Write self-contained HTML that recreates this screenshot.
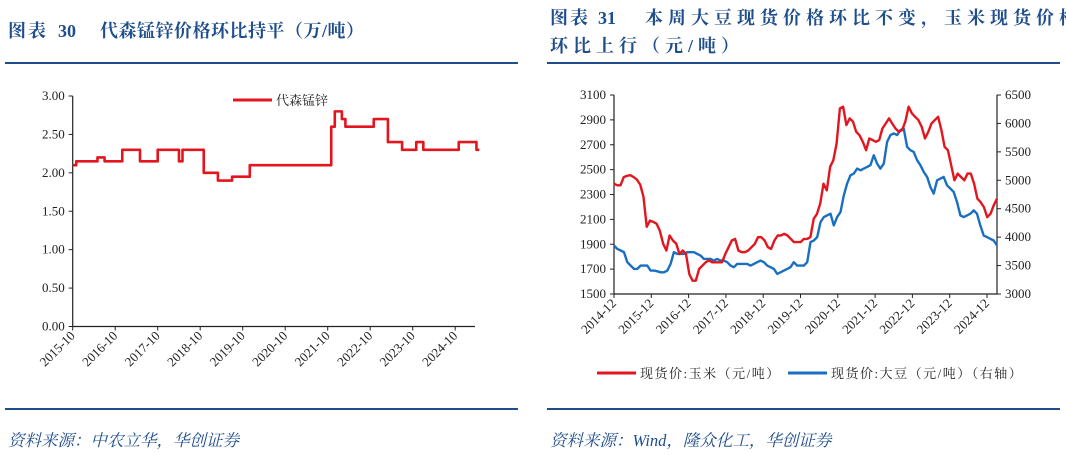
<!DOCTYPE html>
<html><head><meta charset="utf-8"><style>
html,body{margin:0;padding:0;background:#fff;}
svg{display:block;}
text{font-family:"Liberation Serif","Noto Serif CJK SC",serif;}
.cj{font-family:"Liberation Serif","Noto Serif CJK SC","Noto Sans CJK SC",serif;}
.tick{font-size:13px;fill:#222;}
</style></head><body>
<svg id="page" width="1066" height="455" viewBox="0 0 1066 455" xmlns="http://www.w3.org/2000/svg">
<g class="cj" font-size="18" font-weight="bold" fill="#1f4e8c">
<text x="8" y="37" letter-spacing="2">图表</text>
<text x="58" y="37">30</text>
<text x="100" y="37" letter-spacing="0.5">代森锰锌价格环比持平（万/吨）</text>
</g>
<rect x="5" y="62" width="513" height="2" fill="#1f4e8c"/>
<rect x="5" y="408" width="513" height="2" fill="#1f4e8c"/>
<text x="8" y="446" class="cj" font-size="16.5" font-style="italic" fill="#1f4e8c">资料来源：中农立华，华创证券</text>

<g class="cj" font-size="18" font-weight="bold" fill="#1f4e8c">
<text x="550" y="24" letter-spacing="2">图表</text>
<text x="598" y="24">31</text>
<text x="645" y="24" letter-spacing="5">本周大豆现货价格环比不变，玉米现货价格</text>
<text x="550" y="52" letter-spacing="5">环比上行（元/吨）</text>
</g>
<rect x="547" y="62" width="513" height="2" fill="#1f4e8c"/>
<rect x="547" y="408" width="513" height="2" fill="#1f4e8c"/>
<text x="550" y="446" class="cj" font-size="16.5" font-style="italic" fill="#1f4e8c">资料来源：Wind，隆众化工，华创证券</text>

<g id="left"></g>
<g id="right"></g>
</svg>
<script>
// ---- Left chart data (monthly, from 2015-10) ----
const mzPrices = [2.1,2.15,2.15,2.15,2.15,2.15,2.15,2.2,2.2,2.15,2.15,2.15,2.15,2.15,2.3,2.3,2.3,2.3,2.3,2.15,2.15,2.15,2.15,2.15,2.3,2.3,2.3,2.3,2.3,2.3,2.15,2.3,2.3,2.3,2.3,2.3,2.3,2.0,2.0,2.0,2.0,1.9,1.9,1.9,1.9,1.95,1.95,1.95,1.95,1.95,2.1,2.1,2.1,2.1,2.1,2.1,2.1,2.1,2.1,2.1,2.1,2.1,2.1,2.1,2.1,2.1,2.1,2.1,2.1,2.1,2.1,2.1,2.1,2.6,2.8,2.8,2.7,2.6,2.6,2.6,2.6,2.6,2.6,2.6,2.6,2.7,2.7,2.7,2.7,2.4,2.4,2.4,2.4,2.3,2.3,2.3,2.3,2.4,2.4,2.3,2.3,2.3,2.3,2.3,2.3,2.3,2.3,2.3,2.3,2.4,2.4,2.4,2.4,2.4,2.3];
const leftYTicks = [0,0.5,1,1.5,2,2.5,3];
const leftXLabels = ["2015-10","2016-10","2017-10","2018-10","2019-10","2020-10","2021-10","2022-10","2023-10","2024-10"];

// ---- Right chart data ----
const cornPrices = [2387,2374,2374,2440,2450,2455,2440,2420,2380,2280,2040,2090,2080,2065,2010,1905,1850,1970,1930,1905,1822,1850,1822,1660,1607,1607,1700,1728,1755,1770,1755,1755,1755,1755,1822,1876,1930,1943,1850,1836,1836,1850,1876,1903,1957,1957,1930,1876,1863,1930,1970,1970,1984,1970,1943,1917,1917,1917,1943,1943,1957,2105,2145,2226,2387,2333,2522,2575,2710,2992,3006,2858,2912,2885,2804,2777,2724,2656,2750,2737,2724,2737,2831,2871,2912,2871,2831,2804,2818,2885,3006,2952,2925,2898,2844,2750,2804,2871,2898,2925,2818,2683,2656,2535,2414,2468,2441,2414,2468,2468,2387,2266,2239,2199,2118,2145,2212,2266];
const soyPrices = [3853,3794,3765,3735,3559,3500,3441,3441,3500,3500,3500,3412,3412,3400,3382,3382,3412,3529,3735,3706,3706,3706,3735,3735,3735,3706,3676,3618,3618,3618,3588,3618,3588,3588,3559,3500,3471,3529,3529,3529,3529,3500,3529,3559,3588,3559,3500,3471,3441,3353,3382,3412,3441,3471,3559,3500,3500,3500,3559,3912,3941,4000,4265,4353,4382,4412,4206,4353,4441,4735,4941,5088,5118,5206,5176,5206,5235,5265,5441,5294,5206,5294,5676,5794,5824,5794,5882,5912,5588,5529,5500,5353,5265,5147,5059,4882,4765,5000,5029,5059,4912,4853,4794,4618,4382,4353,4382,4412,4471,4412,4206,4029,4000,3971,3941,3853];
const rightLeftTicks = [1500,1700,1900,2100,2300,2500,2700,2900,3100];
const rightRightTicks = [3000,3500,4000,4500,5000,5500,6000,6500];
const rightXLabels = ["2014-12","2015-12","2016-12","2017-12","2018-12","2019-12","2020-12","2021-12","2022-12","2023-12","2024-12"];

const NS="http://www.w3.org/2000/svg";
function mk(parent,tag,attrs,txt){const e=document.createElementNS(NS,tag);for(const k in attrs)e.setAttribute(k,attrs[k]);if(txt!==undefined)e.textContent=txt;parent.appendChild(e);return e;}

// ---- Left chart ----
(function(){
  const g=document.getElementById('left');
  const x0=72.7,x1=475,yTop=96,yBot=326.5;
  const tickStep=42.5, monthW=tickStep/12;
  const xm=i=>x0+i*monthW;
  const y=v=>yBot-(v/3)*(yBot-yTop);
  const ax=mk(g,'path',{d:`M${x0},${yTop} V${yBot} H${x1}`,stroke:'#222','stroke-width':1.2,fill:'none'});
  
  
  leftYTicks.forEach(v=>{
    const t=mk(g,'line',{x1:x0-4,x2:x0,y1:y(v),y2:y(v),stroke:'#222'});
    
    
    const l=mk(g,'text',{x:x0-8,y:y(v)+4,'text-anchor':'end',class:'tick'},v.toFixed(2));
    
    
  });
  leftXLabels.forEach((s,i)=>{
    const xx=x0+i*tickStep;
    const t=mk(g,'line',{x1:xx,x2:xx,y1:yBot,y2:yBot+4,stroke:'#222'});
    
    
    const l=mk(g,'text',{x:xx+3,y:yBot+10,'text-anchor':'end',class:'tick',transform:`rotate(-45 ${xx+3} ${yBot+10})`},s);
    
    
  });
  let d=`M${xm(0)},${y(mzPrices[0])}`;
  for(let i=1;i<mzPrices.length;i++){d+=` H${xm(i)} V${y(mzPrices[i])}`;}
  d+=` H${xm(mzPrices.length-0.2)}`;
  const p=mk(g,'path',{d:d,stroke:'#e3161f','stroke-width':2.6,fill:'none','stroke-linejoin':'round'});
  
  
  const ll=mk(g,'line',{x1:233,x2:272,y1:100,y2:100,stroke:'#e3161f','stroke-width':3});
  
  
  const lt=mk(g,'text',{x:276,y:105,class:'cj','font-size':13,fill:'#222'},'代森锰锌');
  
  
})();

// ---- Right chart ----
(function(){
  const g=document.getElementById('right');
  const x0=614,x1=997,yTop=95,yBot=294,tickStep=37.3;
  const yl=v=>yBot-(v-1500)/1600*(yBot-yTop);
  const yr=v=>yBot-(v-3000)/3500*(yBot-yTop);
  const xs=(i,n)=>x0+i*(x1-x0)/(n-1);
  const ax=mk(g,'path',{d:`M${x0},${yTop} V${yBot} H${x1} V${yTop}`,stroke:'#222','stroke-width':1.2,fill:'none'});
  
  
  rightLeftTicks.forEach(v=>{
    const t=mk(g,'line',{x1:x0-4,x2:x0,y1:yl(v),y2:yl(v),stroke:'#222'});
    
    
    const l=mk(g,'text',{x:x0-8,y:yl(v)+4,'text-anchor':'end',class:'tick'},String(v));
    
    
  });
  rightRightTicks.forEach(v=>{
    const t=mk(g,'line',{x1:x1,x2:x1+4,y1:yr(v),y2:yr(v),stroke:'#222'});
    
    
    const l=mk(g,'text',{x:x1+8,y:yr(v)+4,class:'tick'},String(v));
    
    
  });
  rightXLabels.forEach((s,i)=>{
    const xx=x0+i*tickStep;
    const t=mk(g,'line',{x1:xx,x2:xx,y1:yBot,y2:yBot+4,stroke:'#222'});
    
    
    const l=mk(g,'text',{x:xx+3,y:yBot+10,'text-anchor':'end',class:'tick',transform:`rotate(-45 ${xx+3} ${yBot+10})`},s);
    
    
  });
  const soy=mk(g,'path',{d:soyPrices.map((v,i)=>(i?'L':'M')+xs(i,soyPrices.length).toFixed(1)+','+yr(v).toFixed(1)).join(' '),stroke:'#1a6fc0','stroke-width':2.4,fill:'none','stroke-linejoin':'round'});
  
  
  const corn=mk(g,'path',{d:cornPrices.map((v,i)=>(i?'L':'M')+xs(i,cornPrices.length).toFixed(1)+','+yl(v).toFixed(1)).join(' '),stroke:'#e3161f','stroke-width':2.4,fill:'none','stroke-linejoin':'round'});
  
  
  const s1=mk(g,'line',{x1:597,x2:636,y1:373,y2:373,stroke:'#e3161f','stroke-width':3});
  
  
  const t1=mk(g,'text',{x:640,y:378,class:'cj','font-size':13,fill:'#222','letter-spacing':1.5},'现货价:玉米（元/吨）');
  
  
  const s2=mk(g,'line',{x1:788,x2:827,y1:373,y2:373,stroke:'#1a6fc0','stroke-width':3});
  
  
  const t2=mk(g,'text',{x:831,y:378,class:'cj','font-size':13,fill:'#222','letter-spacing':1.5},'现货价:大豆（元/吨）（右轴）');
  
  
})();
</script>
</body></html>
